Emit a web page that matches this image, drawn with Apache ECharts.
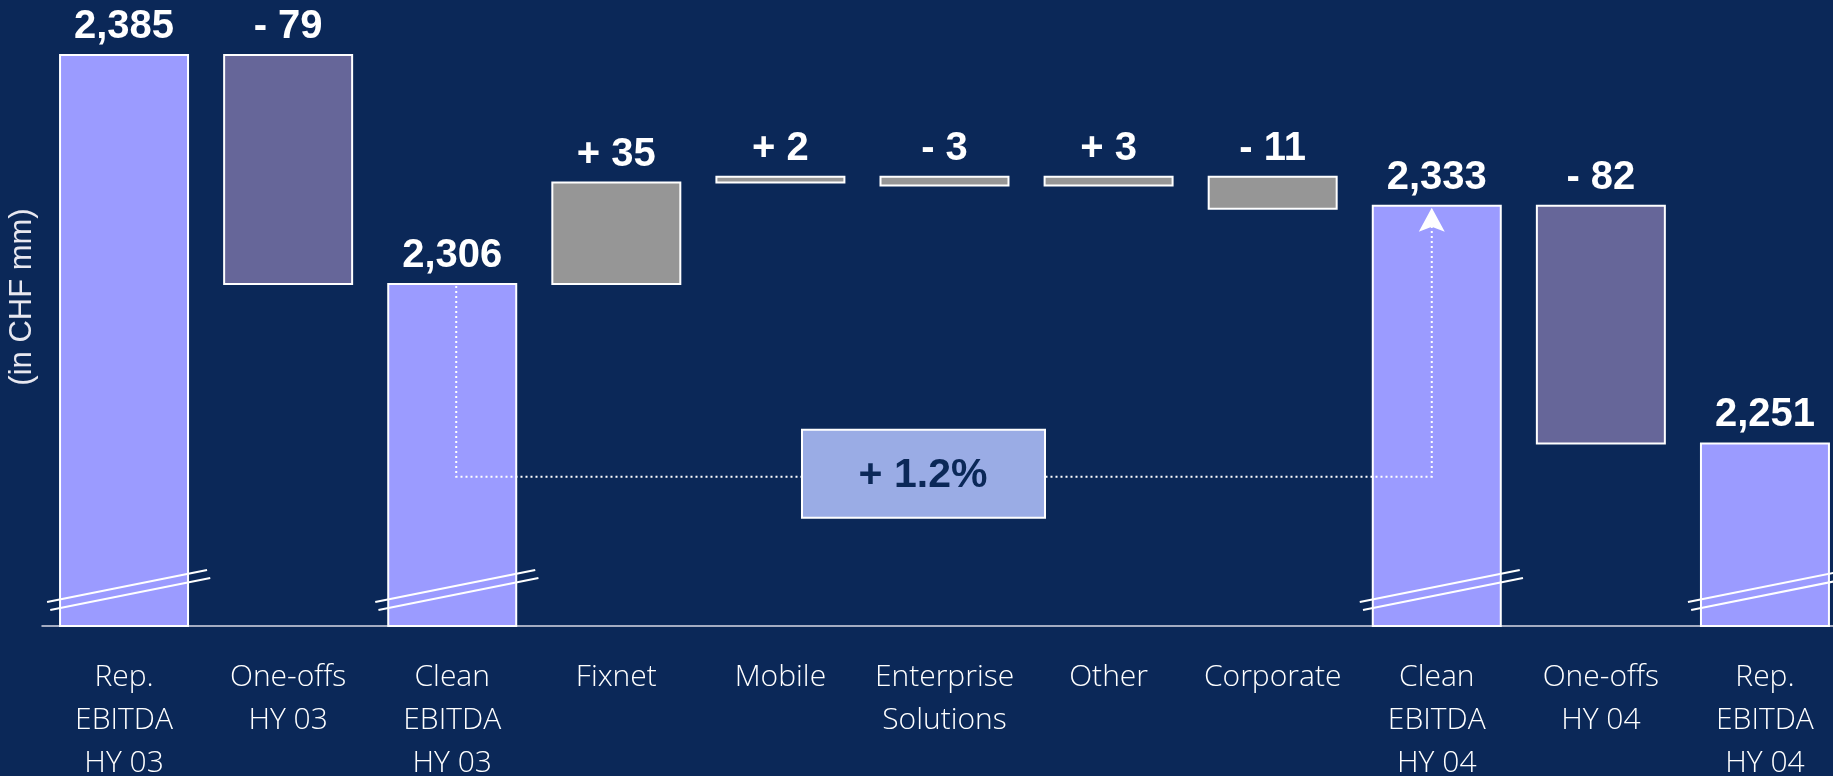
<!DOCTYPE html>
<html>
<head>
<meta charset="utf-8">
<script src="https://cdn.jsdelivr.net/npm/echarts@6/dist/echarts.min.js"></script>
<style>
  html, body { margin: 0; padding: 0; background: #0B2858; }
  #chart { width: 1833px; height: 776px; }
</style>
</head>
<body>
<div id="chart"></div>
<script>
// ---- data ----
const categories = [
  'Rep.\nEBITDA\nHY 03', 'One-offs\nHY 03', 'Clean\nEBITDA\nHY 03', 'Fixnet', 'Mobile',
  'Enterprise\nSolutions', 'Other', 'Corporate', 'Clean\nEBITDA\nHY 04', 'One-offs\nHY 04', 'Rep.\nEBITDA\nHY 04'
];
const values = [2385, -79, 2306, 35, 2, -3, 3, -11, 2333, -82, 2251];
const kinds = ['total', 'oneoff', 'total', 'delta', 'delta', 'delta', 'delta', 'delta', 'total', 'oneoff', 'total'];
const valueLabels = ['2,385', '- 79', '2,306', '+ 35', '+ 2', '- 3', '+ 3', '- 11', '2,333', '- 82', '2,251'];
const growthFrom = 2;   // Clean EBITDA HY 03
const growthTo = 8;     // Clean EBITDA HY 04
const growthLabel = '+ 1.2%';
const yMin = 2188;
const yMax = 2404;
const yAxisTitle = '(in CHF mm)';

// ---- build floating bar ranges ----
const barData = [];
let running = 0;
values.forEach((v, i) => {
  let lo, hi;
  if (kinds[i] === 'total') { lo = yMin; hi = v; running = v; }
  else { const s = running, e = running + v; lo = Math.min(s, e); hi = Math.max(s, e); running = e; }
  barData.push([i, lo, hi]);
});

const colors = { total: '#9B9BFF', oneoff: '#666699', delta: '#969696' };

const chart = echarts.init(document.getElementById('chart'), null, { renderer: 'canvas' });

function renderBar(params, api) {
  const i = api.value(0), lo = api.value(1), hi = api.value(2);
  const top = api.coord([i, hi]);
  const bot = api.coord([i, lo]);
  const w = api.size([1, 0])[0] * 0.78;
  const kind = kinds[i];
  const children = [{
    type: 'rect',
    shape: { x: top[0] - w / 2, y: top[1], width: w, height: bot[1] - top[1] },
    style: { fill: colors[kind], stroke: '#FFFFFF', lineWidth: 2 }
  }, {
    type: 'text',
    x: top[0], y: top[1] - 8,
    style: {
      text: valueLabels[i], fill: '#FFFFFF',
      font: 'bold 40px "Liberation Sans", Arial, sans-serif',
      align: 'center', verticalAlign: 'bottom'
    }
  }];
  if (kind === 'total') {
    const cx = top[0], by = bot[1];
    [0, 8].forEach(off => {
      children.push({
        type: 'line',
        shape: { x1: cx - 77 + off * 0.4, y1: by - 22 + off - 2, x2: cx + 83 + off * 0.4, y2: by - 54 + off - 2 },
        style: { stroke: '#FFFFFF', lineWidth: 2 }
      });
    });
  }
  return { type: 'group', children };
}

function renderConnector(params, api) {
  const a = api.coord([growthFrom, values[growthFrom]]);
  const b = api.coord([growthTo, values[growthTo]]);
  const lvl = api.coord([growthFrom, 2239.5])[1];
  const x1 = a[0] + 4, x2 = b[0] - 5;
  const dash = { stroke: '#FFFFFF', lineWidth: 2, lineDash: [2, 3] };
  const bx = (x1 + x2) / 2 - 21, by = lvl - 3;
  return {
    type: 'group',
    children: [
      { type: 'polyline', shape: { points: [[x1, a[1] + 2], [x1, lvl], [x2, lvl], [x2, b[1] + 20]] }, style: Object.assign({ fill: null }, dash) },
      { type: 'polygon', shape: { points: [[x2, b[1] + 2], [x2 + 13, b[1] + 26], [x2, b[1] + 21], [x2 - 13, b[1] + 26]] }, style: { fill: '#FFFFFF' } },
      { type: 'rect', shape: { x: bx - 121, y: by - 44, width: 243, height: 88 }, style: { fill: '#9AACE5', stroke: '#FFFFFF', lineWidth: 2 } },
      { type: 'text', x: bx, y: by + 2, style: { text: growthLabel, fill: '#0B2858', font: 'bold 41px "Liberation Sans", Arial, sans-serif', align: 'center', verticalAlign: 'middle' } }
    ]
  };
}

chart.setOption({
  backgroundColor: '#0B2858',
  animation: false,
  grid: { left: 42, right: -14, top: 0, bottom: 150, outerBoundsMode: 'none', containLabel: false },
  xAxis: {
    type: 'category',
    data: categories,
    axisLine: { show: true, lineStyle: { color: '#D8D8E4', width: 1.5 } },
    axisTick: { show: false },
    axisLabel: {
      interval: 0, margin: 30, color: '#FFFFFF',
      fontFamily: '"Open Sans", "DejaVu Sans", sans-serif', fontWeight: 300,
      fontSize: 30, lineHeight: 43
    }
  },
  yAxis: { type: 'value', min: yMin, max: yMax, show: false },
  graphic: [{
    type: 'text', x: 22, y: 297, rotation: Math.PI / 2,
    style: { text: yAxisTitle, fill: '#E8E8F0', font: '31px "Liberation Sans", Arial, sans-serif', align: 'center', verticalAlign: 'middle' }
  }],
  series: [
    { type: 'custom', renderItem: renderBar, data: barData, z: 2, clip: false },
    { type: 'custom', renderItem: renderConnector, data: [[growthFrom, growthTo]], z: 3, clip: false }
  ]
});
</script>
</body>
</html>
